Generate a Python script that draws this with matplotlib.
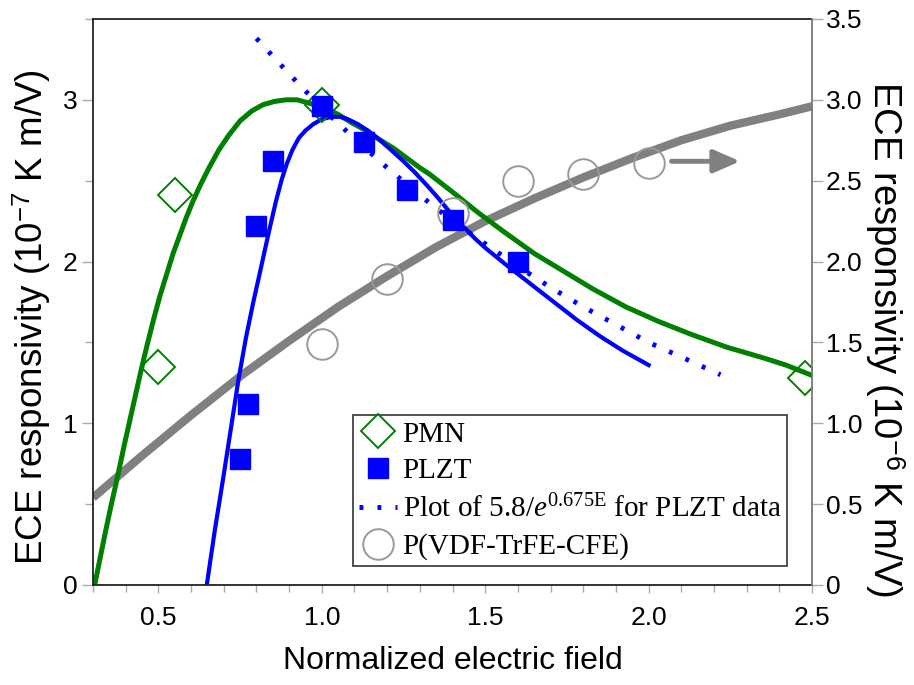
import matplotlib
matplotlib.use("Agg")
import matplotlib.pyplot as plt
from matplotlib.ticker import MultipleLocator, FixedLocator, FuncFormatter

plt.rcParams['font.family'] = ['Liberation Sans', 'DejaVu Sans']
plt.rcParams['mathtext.fontset'] = 'custom'
plt.rcParams['mathtext.rm'] = 'Liberation Serif'
plt.rcParams['mathtext.it'] = 'Liberation Serif:italic'
plt.rcParams['mathtext.sf'] = 'Liberation Sans'

# ---- data ----
pmn_x = [0.50, 0.55, 1.00, 2.48]
pmn_y = [1.35, 2.41, 2.97, 1.28]

plzt_x = [0.75, 0.775, 0.80, 0.85, 1.00, 1.13, 1.26, 1.40, 1.60]
plzt_y = [0.78, 1.12, 2.22, 2.62, 2.96, 2.74, 2.44, 2.26, 2.00]

pvdf_x = [1.00, 1.20, 1.40, 1.60, 1.80, 2.00]
pvdf_y = [1.49, 1.89, 2.30, 2.50, 2.54, 2.61]

pmn_fit_x = [0.305, 0.32, 0.335, 0.355, 0.375, 0.395, 0.415, 0.445, 0.465, 0.485,
             0.505, 0.525, 0.545, 0.565, 0.585, 0.605, 0.63, 0.655, 0.685, 0.715,
             0.75, 0.785, 0.82, 0.855, 0.89, 0.925, 0.96, 1.01, 1.05, 1.09,
             1.135, 1.18, 1.22, 1.26, 1.30, 1.33, 1.40, 1.48, 1.56, 1.65,
             1.74, 1.83, 1.93, 2.03, 2.13, 2.24, 2.35, 2.42, 2.495]
pmn_fit_y = [0.00, 0.15, 0.30, 0.49, 0.67, 0.86, 1.04, 1.31, 1.48, 1.64,
             1.79, 1.92, 2.05, 2.16, 2.27, 2.37, 2.48, 2.58, 2.69, 2.78,
             2.87, 2.93, 2.97, 2.99, 3.00, 3.00, 2.98, 2.95, 2.91, 2.86,
             2.81, 2.75, 2.70, 2.64, 2.58, 2.54, 2.43, 2.30, 2.18, 2.05,
             1.94, 1.83, 1.72, 1.63, 1.55, 1.47, 1.405, 1.36, 1.30]

plzt_fit_x = [0.648, 0.672, 0.699, 0.722, 0.745, 0.768, 0.791, 0.806, 0.830, 0.845,
              0.860, 0.877, 0.893, 0.910, 0.930, 0.950, 0.974, 1.000, 1.030, 1.056,
              1.080, 1.110, 1.141, 1.175, 1.212, 1.25, 1.283, 1.32, 1.353, 1.39,
              1.434, 1.47, 1.50, 1.57, 1.64, 1.71, 1.78, 1.85, 1.92, 2.00]
plzt_fit_y = [0.00, 0.33, 0.67, 0.97, 1.27, 1.53, 1.755, 1.89, 2.11, 2.245,
              2.375, 2.505, 2.605, 2.69, 2.765, 2.81, 2.85, 2.88, 2.895, 2.895,
              2.88, 2.85, 2.81, 2.755, 2.69, 2.62, 2.555, 2.475, 2.40, 2.31,
              2.215, 2.14, 2.085, 1.97, 1.86, 1.75, 1.64, 1.54, 1.45, 1.36]

exp_x = [0.80, 0.90, 1.00, 1.10, 1.20, 1.30, 1.40, 1.50, 1.60, 1.70,
         1.80, 1.90, 2.00, 2.10, 2.22]
exp_y = [3.38, 3.16, 2.95, 2.76, 2.58, 2.41, 2.25, 2.11, 1.97, 1.84,
         1.72, 1.61, 1.50, 1.41, 1.30]

pvdf_fit_x = [0.30, 0.45, 0.60, 0.75, 0.90, 1.05, 1.20, 1.35, 1.50, 1.65,
              1.80, 1.95, 2.10, 2.25, 2.40, 2.50]
pvdf_fit_y = [0.54, 0.80, 1.05, 1.29, 1.51, 1.72, 1.91, 2.09, 2.25, 2.39,
              2.52, 2.64, 2.75, 2.84, 2.91, 2.96]

arrow_x = [2.07, 2.28]
arrow_y = 2.62

left_ticks = [0, 1, 2, 3]
right_ticks = [0, 0.5, 1.0, 1.5, 2.0, 2.5, 3.0, 3.5]
x_ticks = [0.5, 1.0, 1.5, 2.0, 2.5]

GREEN = '#008000'
BLUE = '#0000ff'
GRAY = '#808080'
EXP_LABEL = r'Plot of 5.8/$e^{0.675\mathrm{E}}$ for PLZT data'

fig = plt.figure(figsize=(9.14, 6.85), dpi=100)
ax = fig.add_axes([0.1018, 0.146, 0.8884 - 0.1018, 0.9723 - 0.146])

ax.plot(pvdf_fit_x, pvdf_fit_y, color=GRAY, lw=6, solid_capstyle='butt',
        solid_joinstyle='round', zorder=2)
ax.plot(pmn_fit_x, pmn_fit_y, color=GREEN, lw=3.6, solid_joinstyle='round', zorder=2.2)
ax.plot(plzt_fit_x, plzt_fit_y, color=BLUE, lw=3.0, solid_joinstyle='round', zorder=2.3)
ax.plot(exp_x, exp_y, color=BLUE, lw=3.5, linestyle=(0, (0.8, 2.9)),
        dash_capstyle='butt', zorder=2.3, label=EXP_LABEL)

ax.plot(pmn_x, pmn_y, linestyle='none', marker='D', ms=17, mfc='none',
        mec=GREEN, mew=1.4, zorder=3, label='PMN')
ax.plot(plzt_x, plzt_y, linestyle='none', marker='s', ms=15, mfc=BLUE,
        mec=BLUE, mew=1, zorder=3.5, label='PLZT')
ax.plot(pvdf_x, pvdf_y, linestyle='none', marker='o', ms=22, mfc='none',
        mec='#999999', mew=1.4, zorder=3, label='P(VDF-TrFE-CFE)')

ax.annotate('', xy=(arrow_x[1], arrow_y), xytext=(arrow_x[0], arrow_y),
            arrowprops=dict(arrowstyle='-|>,head_length=1.6,head_width=0.7',
                            color=GRAY, lw=3.5, mutation_scale=10,
                            shrinkA=0, shrinkB=0))

ax.set_xlim(0.3, 2.5)
ax.set_ylim(0, 3.5)
ax.xaxis.set_major_locator(FixedLocator(x_ticks))
ax.xaxis.set_minor_locator(MultipleLocator(0.1))
ax.yaxis.set_major_locator(FixedLocator(left_ticks))
ax.yaxis.set_minor_locator(MultipleLocator(0.5))
ax.set_xticklabels([f'{v:.1f}' for v in x_ticks])
ax.set_yticklabels([str(v) for v in left_ticks])

ax.tick_params(axis='x', which='both', direction='out', color='#aaaaaa',
               labelsize=19, pad=9, top=False)
ax.tick_params(axis='x', which='major', length=6, width=1)
ax.tick_params(axis='x', which='minor', length=5, width=1)
ax.tick_params(axis='y', which='both', direction='out', color='#aaaaaa',
               labelsize=19, pad=3, right=False)
ax.tick_params(axis='y', which='major', length=8, width=1)
ax.tick_params(axis='y', which='minor', length=6, width=1)

for s in ['left', 'bottom', 'top']:
    ax.spines[s].set_color('#222222')
    ax.spines[s].set_linewidth(1.3)
ax.spines['right'].set_visible(False)

ax.set_xlabel('Normalized electric field', fontsize=23, labelpad=12)
ax.set_ylabel(r'ECE responsivity (10$^{\mathsf{-7}}$ K m/V)', fontsize=26.5, labelpad=7)
ax.yaxis.label.set_y(0.473)

ax2 = ax.twinx()
ax2.set_ylim(0, 3.5)
ax2.yaxis.set_major_locator(FixedLocator(right_ticks))
ax2.yaxis.set_major_formatter(FuncFormatter(lambda v, p: '0' if v == 0 else f'{v:.1f}'))
ax2.tick_params(axis='y', direction='out', color='#aaaaaa', length=8, width=1,
                labelsize=19, pad=2)
for s in ['left', 'bottom', 'top']:
    ax2.spines[s].set_visible(False)
ax2.spines['right'].set_color('#777777')
ax2.spines['right'].set_linewidth(1.3)
ax2.set_ylabel(r'ECE responsivity (10$^{\mathsf{-6}}$ K m/V)', fontsize=27.5,
               rotation=270, labelpad=32)
ax2.yaxis.label.set_y(0.435)

handles, labels = ax.get_legend_handles_labels()
order = [labels.index('PMN'), labels.index('PLZT'),
         labels.index(EXP_LABEL), labels.index('P(VDF-TrFE-CFE)')]
leg = ax2.legend([handles[i] for i in order], [labels[i] for i in order],
                 loc='lower left', bbox_to_anchor=(0.3616, 0.0336),
                 borderaxespad=0, frameon=True, fancybox=False, framealpha=1,
                 edgecolor='#333333', prop={'family': 'Liberation Serif', 'size': 21},
                 handlelength=1.3, handletextpad=0.2, labelspacing=0.35,
                 borderpad=0.2, markerscale=1.0)
leg.get_frame().set_linewidth(1.2)
leg.set_zorder(10)

fig.savefig('out.png', dpi=100)
